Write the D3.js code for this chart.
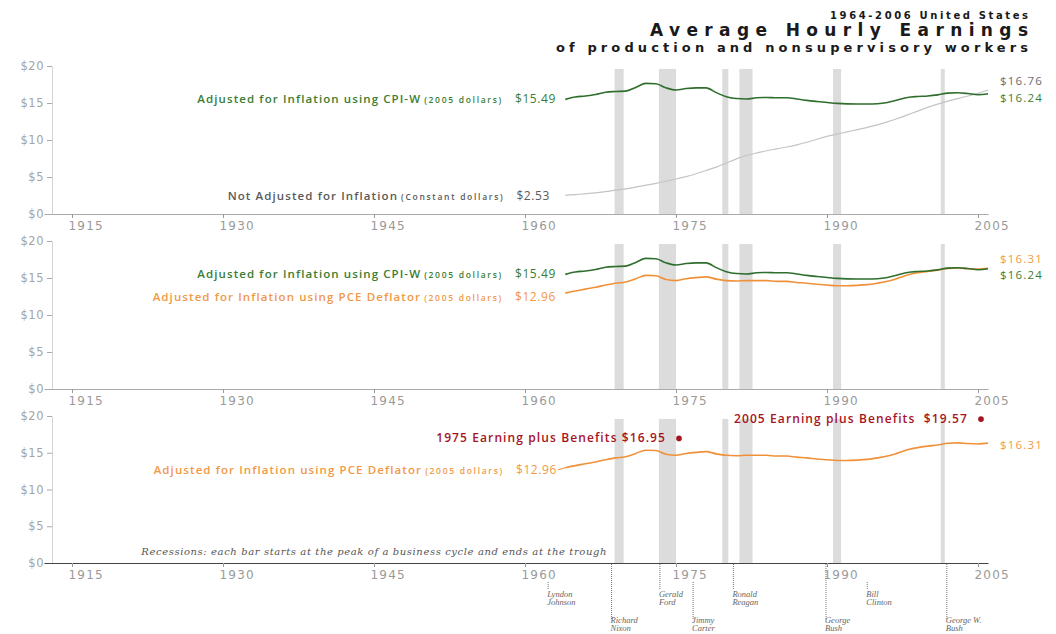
<!DOCTYPE html>
<html>
<head>
<meta charset="utf-8">
<script src="https://cdn.jsdelivr.net/npm/d3@7"></script>
<style>
  body { margin: 0; background: #fff; }
  svg { display: block; }
</style>
</head>
<body>
<svg id="chart" width="1056" height="634"></svg>
<script>
// Average hourly earnings of production and nonsupervisory workers, 1964-2006
const years = [1964,1965,1966,1967,1968,1969,1970,1971,1972,1973,1974,1975,1976,1977,1978,1979,
  1980,1981,1982,1983,1984,1985,1986,1987,1988,1989,1990,1991,1992,1993,1994,1995,1996,1997,
  1998,1999,2000,2001,2002,2003,2004,2005,2006];

// current (not inflation-adjusted) dollars
const nominal = [2.53,2.63,2.73,2.85,3.02,3.22,3.40,3.63,3.90,4.14,4.43,4.73,5.06,5.44,5.88,6.34,
  6.90,7.45,7.90,8.25,8.55,8.80,9.05,9.35,9.70,10.10,10.50,10.80,11.10,11.40,11.70,12.05,12.45,12.90,
  13.40,13.90,14.40,14.85,15.25,15.60,15.95,16.30,16.76];

// 2005 dollars, deflated with CPI-W
const cpiw = [15.49,15.80,15.95,16.15,16.45,16.55,16.60,17.10,17.65,17.60,17.05,16.75,16.95,17.05,17.05,16.40,
  15.85,15.60,15.55,15.70,15.75,15.70,15.70,15.55,15.35,15.20,15.07,14.95,14.88,14.86,14.86,14.90,15.07,15.40,
  15.75,15.88,15.95,16.10,16.34,16.38,16.28,16.12,16.24];

// 2005 dollars, deflated with the PCE price index
const pce = [12.96,13.25,13.50,13.75,14.05,14.30,14.45,14.90,15.35,15.30,14.80,14.65,14.90,15.05,15.15,14.85,
  14.65,14.60,14.65,14.65,14.65,14.55,14.55,14.40,14.30,14.15,14.05,13.95,13.95,14.00,14.10,14.30,14.55,14.95,
  15.40,15.70,15.90,16.05,16.30,16.35,16.25,16.20,16.31];

// recession periods: peak -> trough
const recessions = [[1968.9,1969.8],[1973.3,1975.0],[1979.6,1980.2],[1981.3,1982.6],[1990.6,1991.4],[2001.3,2001.7]];

// earnings plus benefits, 2005 dollars
const benefits = [
  { year: 1975, value: 16.95, label: "1975 Earning plus Benefits", gap: "" },
  { year: 2005, value: 19.57, label: "2005 Earning plus Benefits", gap: "\u00a0" }
];

// presidential terms marked under the bottom axis
const presidents = [
  { name: ["Lyndon", "Johnson"], year: 1962.3, row: 0, below: true },
  { name: ["Richard", "Nixon"],  year: 1968.6, row: 1, below: false },
  { name: ["Gerald", "Ford"],    year: 1973.4, row: 0, below: false },
  { name: ["Jimmy", "Carter"],   year: 1976.7, row: 1, below: true },
  { name: ["Ronald", "Reagan"],  year: 1980.7, row: 0, below: false },
  { name: ["George", "Bush"],    year: 1989.9, row: 1, below: false },
  { name: ["Bill", "Clinton"],   year: 1994.0, row: 0, below: true },
  { name: ["George W.", "Bush"], year: 2001.9, row: 1, below: false }
];

const xTicks = [1915, 1930, 1945, 1960, 1975, 1990, 2005];
const yTicks = [0, 5, 10, 15, 20];

const GREEN = "#2f6e2c", GREEN_TXT = "#3b7d33";
const ORANGE = "#f0913a", ORANGE_TXT = "#f29846";
const GRAY_LINE = "#c4c4c4", GRAY_TXT = "#5a5a5a";
const RED = "#a5141f";
const LABEL_FONT = "'Open Sans', 'Noto Sans', sans-serif";

const svg = d3.select("#chart");

const x = d3.scaleLinear().domain([1915, 2005]).range([72, 978]);
const axisLeftX = 52, axisStart = 44, axisEnd = x(2006);

const rows = years.map((yr, i) => ({ year: yr, nominal: nominal[i], cpiw: cpiw[i], pce: pce[i] }));

// ---------- title ----------
const title = svg.append("g").attr("font-family", "'DejaVu Sans', sans-serif")
  .attr("font-weight", "bold").attr("text-anchor", "end").attr("fill", "#1a1a1a");
title.append("text").attr("x", 1028).attr("y", 19).attr("font-size", 10)
  .attr("textLength", 198).attr("lengthAdjust", "spacing").text("1964-2006 United States");
title.append("text").attr("x", 1028).attr("y", 36).attr("font-size", 17)
  .attr("textLength", 378).attr("lengthAdjust", "spacing").text("Average Hourly Earnings");
title.append("text").attr("x", 1028).attr("y", 52).attr("font-size", 13)
  .attr("textLength", 472).attr("lengthAdjust", "spacing").text("of production and nonsupervisory workers");

// ---------- panels ----------
const panels = [
  { top: 66,  bottom: 214, axisColor: "#aaa" },
  { top: 241, bottom: 389, axisColor: "#aaa" },
  { top: 416, bottom: 563, axisColor: "#444" }
];

function makePanel(p) {
  const y = d3.scaleLinear().domain([0, 20]).range([p.bottom, p.top]);
  const g = svg.append("g");

  // recession bars
  g.append("g").selectAll("rect").data(recessions).join("rect")
    .attr("x", d => x(d[0])).attr("width", d => x(d[1]) - x(d[0]))
    .attr("y", y(19.6)).attr("height", y(0) - y(19.6))
    .attr("fill", "#dcdcdc");

  // y axis
  const ya = g.append("g").attr("transform", `translate(${axisLeftX},0)`)
    .call(d3.axisLeft(y).tickValues(yTicks).tickFormat(d => "$" + d).tickSize(5).tickSizeOuter(0).tickPadding(3));
  ya.select(".domain").attr("stroke", "#d4d4d4");
  ya.selectAll(".tick line").attr("stroke", "#aaa");
  ya.selectAll(".tick text").attr("fill", "#a4a4a4").attr("font-size", 11.5)
    .attr("font-family", "'DejaVu Sans', sans-serif").attr("letter-spacing", 0.5);

  // x axis
  const xa = d3.scaleLinear().domain([x.invert(axisStart), x.invert(axisEnd)]).range([axisStart, axisEnd]);
  const xg = g.append("g").attr("transform", `translate(0,${y(0)})`)
    .call(d3.axisBottom(xa).tickValues(xTicks).tickFormat(d3.format("d")).tickSize(4).tickSizeOuter(0).tickPadding(3));
  xg.select(".domain").attr("stroke", p.axisColor).attr("stroke-width", 1.2);
  xg.selectAll(".tick line").attr("stroke", "#999");
  xg.selectAll(".tick text").attr("fill", "#9a9a9a").attr("font-size", 12)
    .attr("font-family", "'DejaVu Sans', sans-serif").attr("letter-spacing", 1.2)
    .attr("text-anchor", "start").attr("dx", -4);

  return { g, y };
}

function drawLine(g, y, key, color, width) {
  g.append("path").datum(rows)
    .attr("fill", "none").attr("stroke", color).attr("stroke-width", width)
    .attr("stroke-linejoin", "round")
    .attr("d", d3.line().x(d => x(d.year)).y(d => y(d[key])).curve(d3.curveMonotoneX));
}

function seriesLabel(g, xEnd, yBase, main, small, value, color) {
  const t = g.append("text").attr("x", xEnd).attr("y", yBase).attr("text-anchor", "end")
    .attr("font-family", LABEL_FONT).attr("font-weight", 600).attr("fill", color);
  t.append("tspan").attr("font-size", 11.5).attr("letter-spacing", 1.1).text(main);
  if (small) t.append("tspan").attr("font-size", 8.5).attr("letter-spacing", 1.7).attr("dx", 3).text(small);
  t.append("tspan").attr("font-size", 12).attr("letter-spacing", 0.6).attr("dx", 12).attr("font-weight", 500).text(value);
}

function endLabel(g, yBase, value, color) {
  g.append("text").attr("x", 1000).attr("y", yBase)
    .attr("font-family", LABEL_FONT).attr("font-size", 11.5).attr("font-weight", 500)
    .attr("letter-spacing", 1.2).attr("fill", color).text(value);
}

const fmt = v => "$" + v.toFixed(2);
const last = rows.length - 1;

// panel 1: CPI-W adjusted vs. not adjusted
{
  const { g, y } = makePanel(panels[0]);
  drawLine(g, y, "nominal", GRAY_LINE, 1.2);
  drawLine(g, y, "cpiw", GREEN, 1.6);
  seriesLabel(g, 556, y(cpiw[0]) + 4, "Adjusted for Inflation using CPI-W", "(2005 dollars)", fmt(cpiw[0]), GREEN_TXT);
  seriesLabel(g, 550, y(nominal[0]) + 5, "Not Adjusted for Inflation", "(Constant dollars)", fmt(nominal[0]), GRAY_TXT);
  endLabel(g, y(nominal[last]) - 5, fmt(nominal[last]), "#6a6a6a");
  endLabel(g, y(cpiw[last]) + 8, fmt(cpiw[last]), GREEN_TXT);
}

// panel 2: CPI-W vs. PCE deflator
{
  const { g, y } = makePanel(panels[1]);
  drawLine(g, y, "pce", ORANGE, 1.6);
  drawLine(g, y, "cpiw", GREEN, 1.6);
  seriesLabel(g, 556, y(cpiw[0]) + 4, "Adjusted for Inflation using CPI-W", "(2005 dollars)", fmt(cpiw[0]), GREEN_TXT);
  seriesLabel(g, 556, y(pce[0]) + 8, "Adjusted for Inflation using PCE Deflator", "(2005 dollars)", fmt(pce[0]), ORANGE_TXT);
  endLabel(g, y(pce[last]) - 5, fmt(pce[last]), ORANGE_TXT);
  endLabel(g, y(cpiw[last]) + 10, fmt(cpiw[last]), GREEN_TXT);
}

// panel 3: PCE deflator with earnings plus benefits
{
  const { g, y } = makePanel(panels[2]);
  drawLine(g, y, "pce", ORANGE, 1.6);
  seriesLabel(g, 557, y(pce[0]) + 6, "Adjusted for Inflation using PCE Deflator", "(2005 dollars)", fmt(pce[0]), ORANGE_TXT);
  g.append("line").attr("x1", 558).attr("x2", x(years[0]))
    .attr("y1", y(pce[0]) + 2).attr("y2", y(pce[0]))
    .attr("stroke", ORANGE).attr("stroke-width", 1.2);
  endLabel(g, y(pce[last]) + 6, fmt(pce[last]), ORANGE_TXT);

  g.selectAll("circle.benefit").data(benefits).join("circle").attr("class", "benefit")
    .attr("cx", d => x(d.year) + 3).attr("cy", d => y(d.value)).attr("r", 2.8).attr("fill", RED);
  g.selectAll("text.benefit").data(benefits).join("text").attr("class", "benefit")
    .attr("x", d => x(d.year) - 10).attr("y", d => y(d.value) + 4)
    .attr("text-anchor", "end").attr("font-family", LABEL_FONT).attr("font-weight", 600)
    .attr("font-size", 12).attr("letter-spacing", 1.1).attr("fill", RED)
    .text(d => d.label + " " + d.gap + fmt(d.value));

  g.append("text").attr("x", 607).attr("y", y(0) - 8).attr("text-anchor", "end")
    .attr("font-family", "'DejaVu Serif', 'Liberation Serif', serif").attr("font-style", "italic")
    .attr("font-size", 10).attr("letter-spacing", 0.6).attr("fill", "#555")
    .text("Recessions: each bar starts at the peak of a business cycle and ends at the trough");

  // presidents
  const base = y(0);
  const pg = svg.append("g");
  presidents.forEach(d => {
    const px = x(d.year);
    const y1 = d.below ? base + 19 : base + 1;
    const y2 = d.row === 0 ? base + 26 : base + 57;
    pg.append("line").attr("x1", px).attr("x2", px).attr("y1", y1).attr("y2", y2)
      .attr("stroke", "#777").attr("stroke-width", 1).attr("stroke-dasharray", "1,1");
    const ty = d.row === 0 ? base + 34 : base + 60;
    const t = pg.append("text").attr("x", px - 1).attr("y", ty)
      .attr("font-family", "'Liberation Serif', 'DejaVu Serif', serif").attr("font-style", "italic")
      .attr("font-size", 8.5).attr("fill", "#666");
    t.append("tspan").attr("x", px - 1).text(d.name[0]);
    t.append("tspan").attr("x", px - 1).attr("dy", 8).text(d.name[1]);
  });
}
</script>
</body>
</html>
